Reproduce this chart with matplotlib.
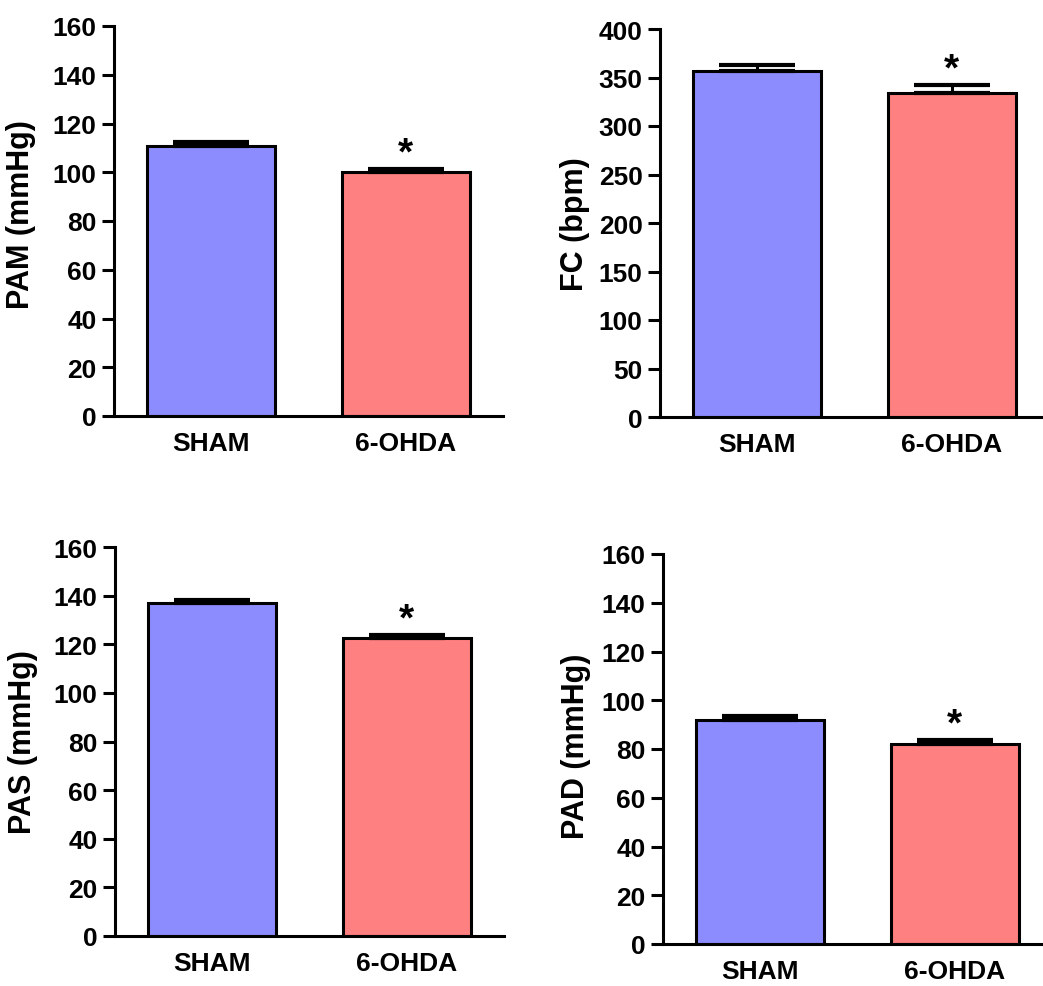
import matplotlib
matplotlib.use("Agg")
import matplotlib.pyplot as plt
import numpy as np

plt.rcParams['font.family'] = ['Liberation Sans', 'DejaVu Sans']

groups = ["SHAM", "6-OHDA"]
colors = ["#8C8CFF", "#FF8080"]

pam_mean = [110.8, 100.1]
pam_err = [1.6, 1.2]
fc_mean = [356.7, 334.0]
fc_err = [6.2, 8.3]
pas_mean = [137.0, 122.6]
pas_err = [1.2, 1.2]
pad_mean = [91.9, 82.1]
pad_err = [1.6, 1.6]

panels = [
    dict(mean=pam_mean, err=pam_err, ylabel="PAM (mmHg)", ymax=160, step=20,
         rect=[114, 27, 389, 390], labx=21, laby=0.52),
    dict(mean=fc_mean, err=fc_err, ylabel="FC (bpm)", ymax=400, step=50,
         rect=[660, 30, 389, 388], labx=575, laby=0.5),
    dict(mean=pas_mean, err=pas_err, ylabel="PAS (mmHg)", ymax=160, step=20,
         rect=[115, 548, 389, 389], labx=23, laby=0.5),
    dict(mean=pad_mean, err=pad_err, ylabel="PAD (mmHg)", ymax=160, step=20,
         rect=[663, 555, 389, 390], labx=576, laby=0.51),
]

W, H = 1043, 987
fig = plt.figure(figsize=(W / 100, H / 100), dpi=100)

for p in panels:
    x0, ytop, w, h = p["rect"]
    ax = fig.add_axes([x0 / W, (H - ytop - h) / H, w / W, h / H])
    x = np.arange(len(groups))
    ax.bar(x, p["mean"], width=0.66, color=colors, edgecolor="black",
           linewidth=2.2, zorder=2)
    ax.errorbar(x, p["mean"], yerr=[np.zeros(len(groups)), p["err"]],
                fmt="none", ecolor="black", elinewidth=2.2, capsize=27.5,
                capthick=3.0, zorder=3)
    # significance star on 6-OHDA
    ax.annotate("*", xy=(1, p["mean"][1] + p["err"][1]), xytext=(0, 4),
                textcoords="offset points", ha="center", va="baseline",
                fontsize=28, fontweight="bold", zorder=4)
    ax.set_xlim(-0.5, 1.5)
    ax.set_ylim(0, p["ymax"])
    ax.set_yticks(np.arange(0, p["ymax"] + 1, p["step"]))
    ax.set_xticks(x)
    ax.set_xticklabels(groups, fontsize=19, fontweight="bold")
    for lab in ax.get_yticklabels():
        lab.set_fontsize(19)
        lab.set_fontweight("bold")
    ax.tick_params(axis="x", length=0, pad=11)
    ax.tick_params(axis="y", length=8.6, width=2.2, pad=4)
    for s in ["top", "right"]:
        ax.spines[s].set_visible(False)
    for s in ["left", "bottom"]:
        ax.spines[s].set_linewidth(2.2)
    ax.set_ylabel(p["ylabel"], fontsize=22, fontweight="bold", va="center")
    ax.yaxis.set_label_coords((p["labx"] - x0) / w, p["laby"])

fig.savefig("out.png", dpi=100)
